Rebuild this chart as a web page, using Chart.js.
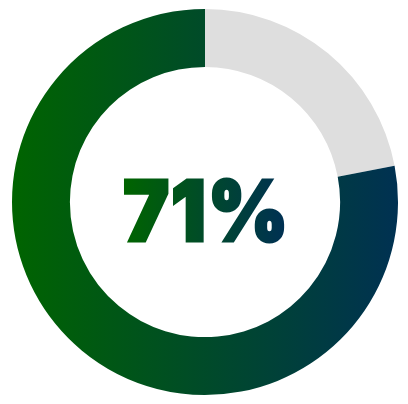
<!DOCTYPE html>
<html>
<head>
<meta charset="utf-8">
<script src="https://cdn.jsdelivr.net/npm/chart.js@4.4.1/dist/chart.umd.min.js"></script>
<style>
  html, body { margin: 0; padding: 0; background: #fff; }
  canvas { display: block; }
</style>
</head>
<body>
<canvas id="progress" width="408" height="404"></canvas>
<script>
// segment sizes as they appear on the ring, gray part starts at the top
const segmentLabels = ['Remaining', 'Done'];
const segmentValues = [22, 78];
const centerLabel = '71%';

const greenStart = '#006400';
const navyEnd = '#003152';
const trackGray = '#dedede';

// text in the hole, with its own left-to-right gradient
const centerText = {
  id: 'centerText',
  afterDraw(chart) {
    const ctx = chart.ctx;
    const arc = chart.getDatasetMeta(0).data[0];
    if (!arc) return;
    ctx.save();
    ctx.font = '900 84px Inter, "DejaVu Sans", sans-serif';
    ctx.letterSpacing = '2px';
    ctx.textAlign = 'left';
    ctx.textBaseline = 'alphabetic';
    const m = ctx.measureText(centerLabel);
    const left = m.actualBoundingBoxLeft;
    const w = m.actualBoundingBoxLeft + m.actualBoundingBoxRight;
    const h = m.actualBoundingBoxAscent + m.actualBoundingBoxDescent;
    // squeeze horizontally so the word keeps the reference width
    const targetW = 158;
    const sx = Math.min(1, targetW / w);
    const cx = arc.x - 1;
    const y = arc.y + 8 + h / 2 - m.actualBoundingBoxDescent;
    ctx.translate(cx, 0);
    ctx.scale(sx, 1);
    const x = -w / 2 + left;
    const g = ctx.createLinearGradient(-w / 2, 0, w / 2, 0);
    g.addColorStop(0, greenStart);
    g.addColorStop(1, navyEnd);
    ctx.fillStyle = g;
    ctx.strokeStyle = g;
    ctx.lineWidth = 3;
    ctx.lineJoin = 'miter';
    ctx.strokeText(centerLabel, x, y);
    ctx.fillText(centerLabel, x, y);
    ctx.restore();
  }
};

function ringColor(context) {
  if (context.dataIndex === 0) return trackGray;
  const area = context.chart.chartArea;
  if (!area) return greenStart;
  const g = context.chart.ctx.createLinearGradient(area.left, 0, area.right, 0);
  g.addColorStop(0, greenStart);
  g.addColorStop(1, navyEnd);
  return g;
}

new Chart(document.getElementById('progress'), {
  type: 'doughnut',
  data: {
    labels: segmentLabels,
    datasets: [{
      data: segmentValues,
      backgroundColor: ringColor,
      borderWidth: 0
    }]
  },
  options: {
    responsive: false,
    animation: false,
    cutout: '70%',
    layout: { padding: { left: 12, right: 10, top: 9, bottom: 9 } },
    plugins: {
      legend: { display: false },
      tooltip: { enabled: false }
    }
  },
  plugins: [centerText]
});
</script>
</body>
</html>
